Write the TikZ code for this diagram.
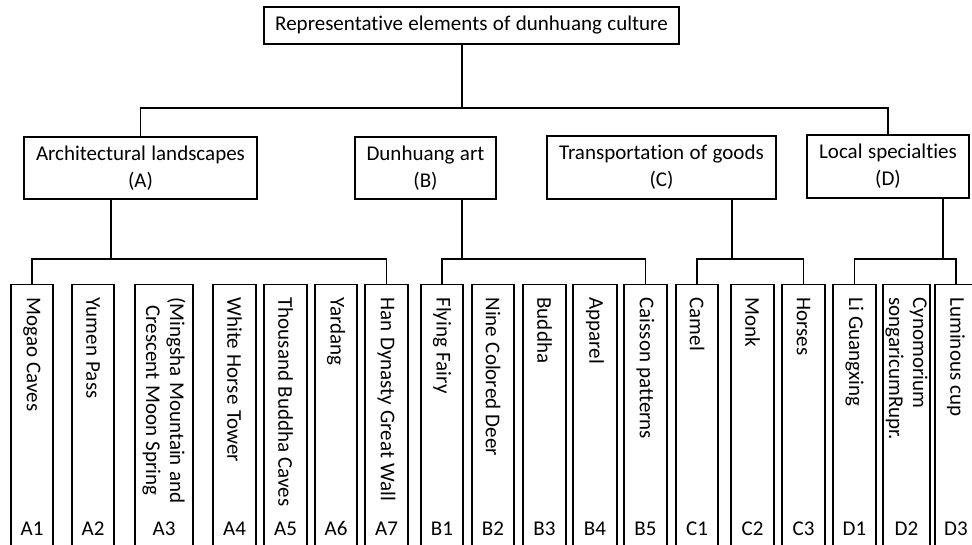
\documentclass[tikz,border=0pt]{standalone}
\usepackage{fontspec}
\setmainfont{Carlito}[Ligatures=NoCommon, WordSpace=1.15]
\usetikzlibrary{calc}
\tikzset{
  box/.style={draw, rectangle, align=center, inner sep=2pt},
  leaf/.style={draw, rectangle, anchor=north, minimum height=320, inner sep=0pt},
  leaftext/.style={rotate=-90, anchor=west, inner sep=0pt, font=\fontsize{21}{24}\selectfont},
  leafcode/.style={inner sep=0pt, anchor=base, font=\fontsize{21}{24}\selectfont}
}
\begin{document}
\begin{tikzpicture}[x=1pt, y=-1pt, line width=1.1pt, font=\fontsize{21}{27}\selectfont]
  \clip (0,0) rectangle (972,545);
  \fill[white] (0,0) rectangle (972,545);
  % root and the four groups
  \node[box, minimum width=415, minimum height=37] (top) at (471.5,25.5) {Representative elements of dunhuang culture};
  \node[box, minimum width=233, minimum height=62] (A) at (140.5,168) {Architectural landscapes\\(A)};
  \node[box, minimum width=141, minimum height=62] (B) at (425.5,168) {Dunhuang art\\(B)};
  \node[box, minimum width=229, minimum height=63] (C) at (661.5,167.5) {Transportation of goods\\(C)};
  \node[box, minimum width=162, minimum height=63] (D) at (888,166.5) {Local specialties\\(D)};
  % junction points
  \coordinate (jt) at (462,108);
  \coordinate (jA) at (111,259);
  \coordinate (jB) at (462,259);
  \coordinate (jC) at (732,259);
  \coordinate (jD) at (943,259);
  % leaves: name/centre/width/text
  \foreach \n/\xc/\w/\txt in {
    A1/32/42/{Mogao Caves},
    A2/93/42/{Yumen Pass},
    A3/164/58/{(Mingsha Mountain and\\Crescent Moon Spring},
    A4/234.5/43/{White Horse Tower},
    A5/285.5/43/{Thousand Buddha Caves},
    A6/336/42/{Yardang},
    A7/386.5/43/{Han Dynasty Great Wall},
    B1/442/42/{Flying Fairy},
    B2/493/42/{Nine Colored Deer},
    B3/544.5/43/{Buddha},
    B4/595/44/{Apparel},
    B5/645.5/43/{Caisson patterns},
    C1/697/42/{Camel},
    C2/752.5/43/{Monk},
    C3/803.5/43/{Horses},
    D1/854.5/43/{Li Guangxing},
    D3/956/42/{Luminous cup}}{
    \node[leaf, minimum width=\w] (\n) at (\xc,284) {};
    \node[leaftext, align=center] (\n t) at (\xc,297) {\txt};
    \node[leafcode] (\n c) at (\xc,535) {\n};
  }
  \node[leaf, minimum width=47] (D2) at (906.5,284) {};
  \node[leaftext, align=left] (D2t) at (906.5,297) {Cynomorium\\songaricumRupr.};
  \node[leafcode] (D2c) at (906.5,535) {D2};
  % connectors
  \draw (top.south -| jt) -- (jt);
  \draw (A.north) -- (A.north |- jt) -- (D.north |- jt) -- (D.north);
  \draw (A.south -| jA) -- (jA);
  \draw (B.south -| jB) -- (jB);
  \draw (C.south -| jC) -- (jC);
  \draw (D.south -| jD) -- (jD);
  \draw (A1.north) |- (A7.north |- jA) -- (A7.north);
  \draw (B1.north) |- (B5.north |- jB) -- (B5.north);
  \draw (C1.north) |- (C3.north |- jC) -- (C3.north);
  \draw (D1.north) |- (D3.north |- jD) -- (D3.north);
\end{tikzpicture}
\end{document}
